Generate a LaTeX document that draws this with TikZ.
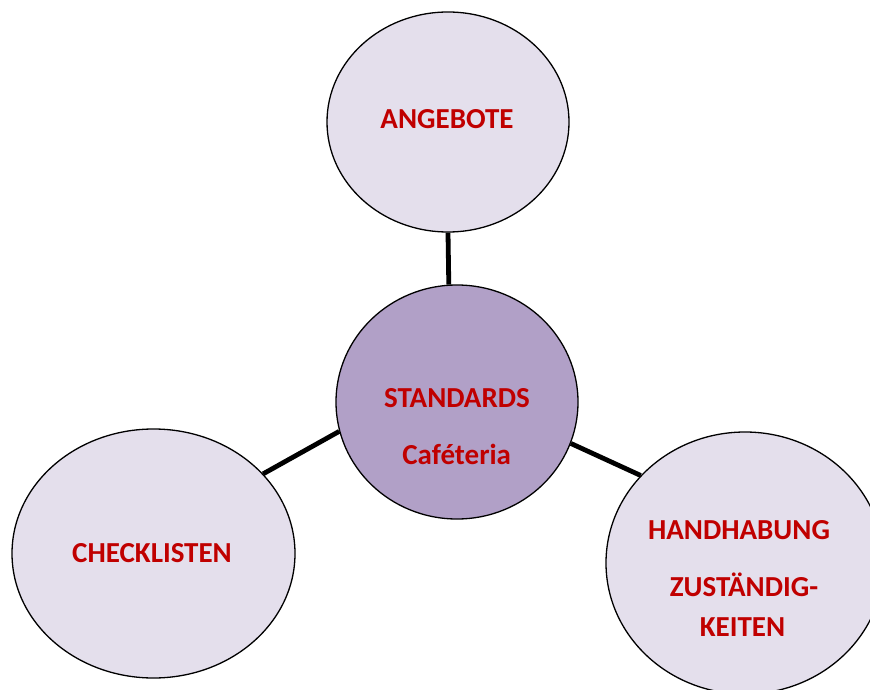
\documentclass[tikz,border=0pt]{standalone}
\usepackage{fontspec}
\setmainfont{Carlito}
\usetikzlibrary{shapes.geometric}
\definecolor{outerfill}{HTML}{E4DFEC}
\definecolor{centerfill}{HTML}{B1A0C7}
\definecolor{txtred}{HTML}{C00000}
\tikzset{
  bubble/.style={ellipse, draw=black, line width=1.3pt, inner sep=0pt},
  outerbubble/.style={bubble, fill=outerfill},
  centerbubble/.style={bubble, fill=centerfill},
  lbl/.style={anchor=base, inner sep=0pt, text=txtred, font=\fontsize{29}{34}\selectfont\bfseries},
  link/.style={line width=4.8pt, line cap=butt}
}
\begin{document}
\begin{tikzpicture}[x=1pt,y=-1pt]
\useasboundingbox (0,0) rectangle (870,690);
\clip (0,0) rectangle (870,690);
\node[centerbubble, minimum width=242pt, minimum height=234pt] (c) at (457,402) {};
\node[outerbubble, minimum width=242pt, minimum height=220pt] (top) at (448,122) {};
\node[outerbubble, minimum width=283pt, minimum height=249pt] (left) at (153.5,553.5) {};
\node[outerbubble, minimum width=278pt, minimum height=262pt] (right) at (745,563) {};
\draw[link] (top.south) -- (c.94.4);
\draw[link] (c.194.8) -- (left.36.9);
\draw[link] (c.340.8) -- (right.140);
\node[lbl] (tA) at (447,128.3) {ANGEBOTE};
\node[lbl] (tS) at (457,407.7) {STANDARDS};
\node[lbl] (tC) at (456.7,464) {Caféteria};
\node[lbl] (tL) at (152,562.7) {CHECKLISTEN};
\node[lbl] (tH) at (739,539.3) {HANDHABUNG};
\node[lbl] (tZ) at (744,596) {ZUSTÄNDIG-};
\node[lbl] (tK) at (742.5,636.7) {KEITEN};
\end{tikzpicture}
\end{document}
